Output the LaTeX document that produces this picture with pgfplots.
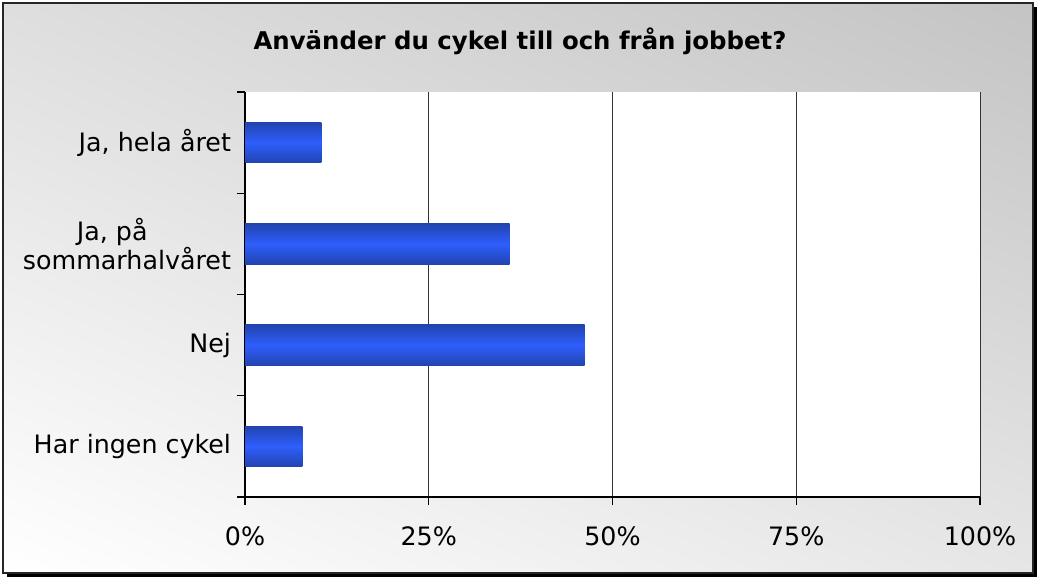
\documentclass[border=0pt]{standalone}
\usepackage{pgfplots}
\pgfplotsset{compat=1.18}
\usetikzlibrary{shadings}
\usepackage{fontspec}
\setmainfont{DejaVu Sans}
\definecolor{bgTR}{RGB}{196,196,196}
\definecolor{bgTL}{RGB}{222,222,222}
\definecolor{bgBR}{RGB}{230,230,230}
\definecolor{bgBL}{RGB}{255,255,255}
\definecolor{barE}{RGB}{34,68,176}
\definecolor{barM}{RGB}{46,94,252}
\begin{document}
\begin{tikzpicture}
\path (0pt,0pt) rectangle (778.5pt,434.25pt);
\fill[black] (5.25pt,1.5pt) rectangle (777.75pt,429pt);
\shade[upper right=bgTR, upper left=bgTL, lower right=bgBR, lower left=bgBL] (2.25pt,4.5pt) rectangle (774.75pt,432pt);
\draw[black!85, line width=1pt] (2.25pt,4.5pt) rectangle (774.75pt,432pt);
\node[font=\bfseries\fontsize{18.3}{22}\selectfont] at (390pt,403pt) {Använder du cykel till och från jobbet?};
\begin{axis}[
  at={(183.75pt,61.5pt)}, anchor=south west,
  scale only axis, width=551.25pt, height=303.75pt,
  xmin=0, xmax=100, ymin=-0.5, ymax=3.5,
  axis background/.style={fill=white},
  axis x line*=bottom, axis y line*=left,
  axis line style={black, line width=0.8pt},
  xtick={0,25,50,75,100},
  xticklabels={0\%,25\%,50\%,75\%,100\%},
  xmajorgrids, grid style={black!80, line width=0.6pt},
  ytick={-0.5,0.5,1.5,2.5,3.5}, yticklabels={},
  extra y ticks={0,1,2,3},
  extra y tick labels={Har ingen cykel, Nej, {Ja, på\hspace*{22pt}\\sommarhalvåret}, {Ja, hela året}},
  extra y tick style={major tick length=0pt, ymajorgrids=false},
  tick align=outside, major tick length=6pt,
  tick style={black, line width=0.8pt},
  ticklabel style={font=\fontsize{19}{22}\selectfont},
  yticklabel style={align=center, xshift=-7pt},
  xticklabel style={yshift=-13pt},
  xbar, bar width=0.4, bar shift=0pt,
]
\addplot[draw=none, top color=barE, bottom color=barE, middle color=barM] coordinates {(7.8,0)};
\addplot[draw=none, top color=barE, bottom color=barE, middle color=barM] coordinates {(46.2,1)};
\addplot[draw=none, top color=barE, bottom color=barE, middle color=barM] coordinates {(36.0,2)};
\addplot[draw=none, top color=barE, bottom color=barE, middle color=barM] coordinates {(10.4,3)};
\end{axis}
\end{tikzpicture}
\end{document}
